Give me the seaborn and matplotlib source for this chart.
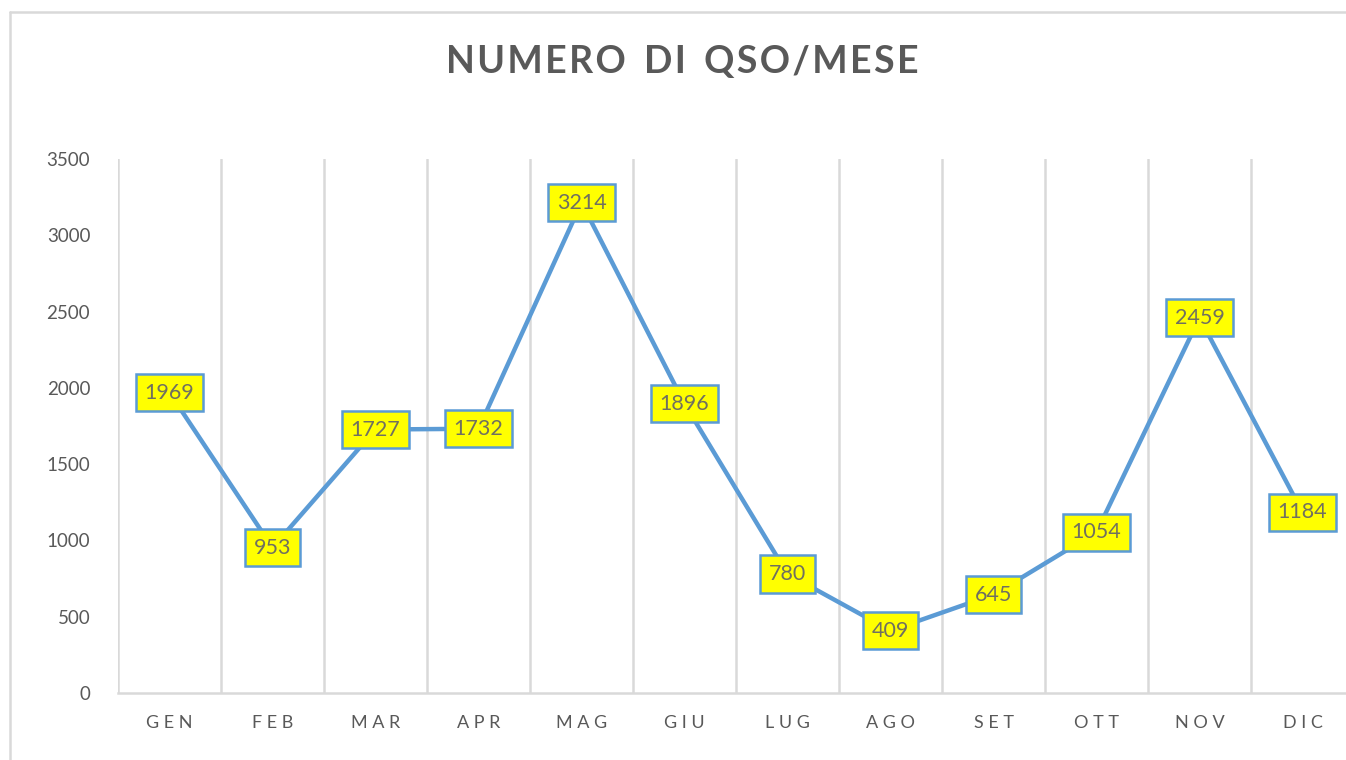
import numpy as np
import pandas as pd
import seaborn as sns
import matplotlib.pyplot as plt
from matplotlib.lines import Line2D

# dati
mesi = ['GEN', 'FEB', 'MAR', 'APR', 'MAG', 'GIU', 'LUG', 'AGO', 'SET', 'OTT', 'NOV', 'DIC']
qso = [1969, 953, 1727, 1732, 3214, 1896, 780, 409, 645, 1054, 2459, 1184]
y_ticks = [0, 500, 1000, 1500, 2000, 2500, 3000, 3500]
titolo = 'NUMERO DI QSO/MESE'

blu = '#5B9BD5'
grigio = '#595959'
griglia = '#D9D9D9'

sns.set_style('white')
plt.rcParams['font.family'] = ['Lato', 'DejaVu Sans']

df = pd.DataFrame({'mese': mesi, 'qso': qso})

fig = plt.figure(figsize=(13.46, 7.6), dpi=100)
ax = fig.add_axes([118 / 1346, 1 - 693 / 760, 1236 / 1346, 534 / 760])

sns.lineplot(data=df, x='mese', y='qso', sort=False, color=blu, linewidth=3.2, ax=ax)

# etichette dati
for i, v in enumerate(qso):
    ax.text(i, v, str(v), ha='center', va='center', fontsize=15.5, color='#707060',
            bbox=dict(boxstyle='square,pad=0.4', fc='#FFFF00', ec=blu, lw=1.8), zorder=5)

ax.set_xlim(-0.5, len(mesi) - 0.5)
ax.set_ylim(0, 3500)
ax.set_yticks(y_ticks)
ax.set_yticklabels([str(t) for t in y_ticks], fontsize=13.5, color=grigio)
ax.set_xticks(range(len(mesi)))
ax.set_xticklabels([' '.join(m) for m in mesi], fontsize=13, color=grigio)
ax.set_xlabel('')
ax.set_ylabel('')
ax.tick_params(axis='both', length=0)
ax.tick_params(axis='y', pad=20)
ax.tick_params(axis='x', pad=16)

# griglia verticale tra le categorie
ax.set_xticks(np.arange(-0.5, len(mesi)), minor=True)
ax.grid(False)
ax.grid(which='minor', axis='x', color=griglia, lw=1.8)
ax.tick_params(which='minor', length=0)

for s in ['left', 'right', 'top']:
    ax.spines[s].set_visible(False)
ax.spines['bottom'].set_color(griglia)
ax.spines['bottom'].set_linewidth(1.8)

# titolo con spaziatura tra le lettere
parole = ['\u200a'.join(p) for p in titolo.split(' ')]
fig.text(682 / 1346, 1 - 62 / 760, '  '.join(parole),
         ha='center', va='center', fontsize=27, fontweight='bold', color=grigio)

# bordo dell'area del grafico
fig.add_artist(Line2D([10 / 1346, 1], [1 - 12 / 760, 1 - 12 / 760], color=griglia, lw=1.8))
fig.add_artist(Line2D([10 / 1346, 10 / 1346], [0, 1 - 12 / 760], color=griglia, lw=1.8))

fig.savefig('out.png', dpi=100)
